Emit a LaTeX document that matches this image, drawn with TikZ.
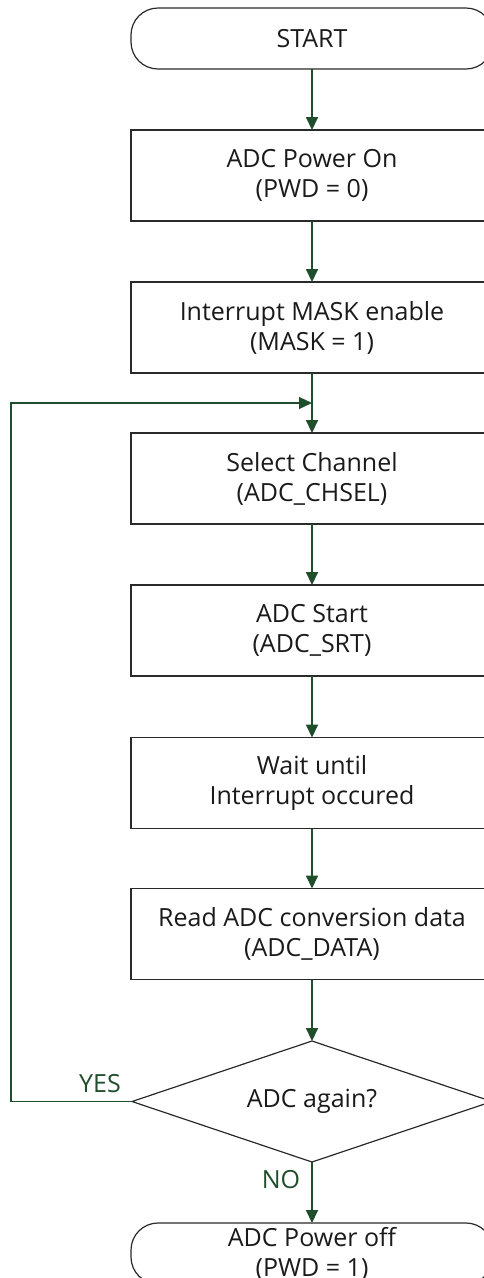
\documentclass[tikz,border=0pt]{standalone}
\usepackage{fontspec}
\setmainfont{Open Sans}
\usetikzlibrary{shapes.geometric,arrows.meta}
\definecolor{flowgreen}{HTML}{1F4E2D}
\definecolor{boxline}{HTML}{2A2A2A}
\definecolor{txt}{HTML}{1A1A1A}
\begin{document}
\begin{tikzpicture}[x=1pt,y=-1pt,
  font=\fontsize{25}{30}\selectfont,
  base/.style={draw=boxline, line width=1.2pt, text=txt, align=center, inner sep=0pt, outer sep=0pt},
  procbox/.style={base, rectangle, minimum width=362pt, minimum height=91pt},
  termbox/.style={base, rectangle, rounded corners=27pt, minimum width=362pt, minimum height=61pt},
  decbox/.style={base, diamond, minimum width=360pt, minimum height=121pt},
  flow/.style={draw=flowgreen, line width=1.8pt, -{Triangle[width=12pt,length=13pt]}},
  loopline/.style={draw=flowgreen, line width=1.2pt},
  lbl/.style={text=flowgreen, inner sep=0pt}
]
\useasboundingbox (0,0) rectangle (483,1278);
\node[termbox] (start) at (312,38.5) {START};
\node[procbox] (b1) at (312,175.5) {ADC Power On\\(PWD = 0)};
\node[procbox] (b2) at (312,327.5) {Interrupt MASK enable\\(MASK = 1)};
\node[procbox] (b3) at (312,478.5) {Select Channel\\(ADC\_CHSEL)};
\node[procbox] (b4) at (312,630.5) {ADC Start\\(ADC\_SRT)};
\node[procbox] (b5) at (312,783) {Wait until\\Interrupt occured};
\node[procbox] (b6) at (312,934) {Read ADC conversion data\\(ADC\_DATA)};
\node[decbox, label={[text=txt, inner sep=0pt]center:ADC again?}] (d) at (312,1101.5) {};
\node[termbox] (end) at (312,1253.5) {ADC Power off\\(PWD = 1)};
\coordinate (join) at (312,403);
\coordinate (lb) at (11,1101.5);
\coordinate (lt) at (11,403);
\draw[flow] (start) -- (b1);
\draw[flow] (b1) -- (b2);
\draw[flow] (b2) -- (b3);
\draw[flow] (b3) -- (b4);
\draw[flow] (b4) -- (b5);
\draw[flow] (b5) -- (b6);
\draw[flow] (b6) -- (d);
\draw[flow] (d) -- (end);
\draw[loopline, -{Triangle[width=12pt,length=13pt]}] (d.west) -- (lb) -- (lt) -- (join);
\node[lbl] (yes) at (100,1084) {YES};
\node[lbl] (no) at (281,1180) {NO};
\end{tikzpicture}
\end{document}
